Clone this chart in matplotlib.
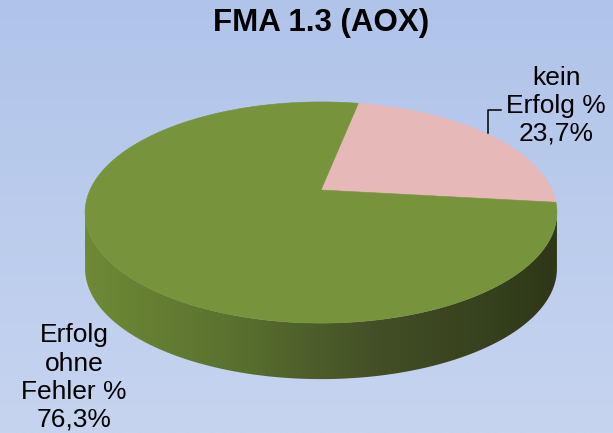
import numpy as np
import matplotlib.pyplot as plt
from matplotlib.patches import Polygon
from matplotlib.colors import LinearSegmentedColormap

plt.rcParams['font.family'] = ['Liberation Sans', 'DejaVu Sans']

# Daten
titel = "FMA 1.3 (AOX)"
kategorien = ["kein\nErfolg %", "Erfolg\nohne\nFehler %"]
werte = [23.7, 76.3]
beschriftung = ["23,7%", "76,3%"]
farben = ["#e6b8b7", "#77933c"]

# Geometrie des 3D-Kuchens (Pixel)
cx, cy = 321, 190      # Mittelpunkt
R, Ry = 231, 106       # Radien
k = 0.2036             # Perspektive
tiefe = 56             # Hoehe der Seitenwand
start = -6.5           # Startwinkel in Grad


def projektion(t, drop=0.0):
    u, v = np.cos(t), np.sin(t)
    w = 1 + k * v
    return cx + R * u / w, cy - Ry * v / w + drop


fig = plt.figure(figsize=(6.13, 4.33), dpi=100)
ax = fig.add_axes([0, 0, 1, 1])
ax.set_xlim(0, 613)
ax.set_ylim(433, 0)
ax.axis('off')

# Hintergrund mit Verlauf
hg = LinearSegmentedColormap.from_list("hg", ["#b0c4ea", "#c6d4ef"])
ax.imshow(np.linspace(0, 1, 256).reshape(-1, 1), cmap=hg, aspect='auto',
          extent=(0, 613, 433, 0), zorder=0)

# Winkel der Stuecke
anteile = np.array(werte) / sum(werte) * 360
grenzen = start + np.concatenate([[0], np.cumsum(anteile)])

# Seitenwand (nur sichtbarer Bereich vorne)
t_links = np.pi + np.arcsin(k)
t_rechts = 2 * np.pi - np.arcsin(k)
seite_cmap = LinearSegmentedColormap.from_list(
    "seite", [(0, "#6f8a36"), (0.3, "#5b7230"), (0.62, "#434f26"), (1, "#2e3818")])

for i in range(len(werte)):
    a0 = np.deg2rad(grenzen[i]) % (2 * np.pi)
    a1 = a0 + np.deg2rad(anteile[i])
    for off in (0, 2 * np.pi):
        lo = max(a0 - off, t_links)
        hi = min(a1 - off, t_rechts)
        if hi <= lo:
            continue
        t = np.linspace(lo, hi, 200)
        xo, yo = projektion(t)
        xu, yu = projektion(t[::-1], tiefe)
        pts = np.column_stack([np.concatenate([xo, xu]), np.concatenate([yo, yu])])
        poly = Polygon(pts, closed=True, facecolor='none', edgecolor='none')
        ax.add_patch(poly)
        if farben[i] == "#77933c":
            cmap = seite_cmap
        else:
            cmap = LinearSegmentedColormap.from_list("p", ["#c9a09f", "#7d6362"])
        x_min, x_max = projektion(t_links)[0], projektion(t_rechts)[0]
        im = ax.imshow(np.linspace(0, 1, 256).reshape(1, -1), cmap=cmap,
                       aspect='auto', extent=(x_min, x_max, 433, 0), zorder=1)
        im.set_clip_path(poly)

# Oberseite
for i in range(len(werte)):
    t = np.deg2rad(np.linspace(grenzen[i], grenzen[i + 1], 300))
    x, y = projektion(t)
    pts = np.column_stack([np.concatenate([[cx], x]), np.concatenate([[cy], y])])
    ax.add_patch(Polygon(pts, closed=True, facecolor=farben[i],
                         edgecolor=farben[i], lw=0.4, zorder=2))

# Titel
ax.text(321, 23, titel, ha='center', va='center', fontsize=22.5,
        fontweight='bold', zorder=3)

# Beschriftungen
ax.text(556, 141, kategorien[0] + "\n" + beschriftung[0], ha='center',
        va='baseline', fontsize=19, linespacing=1.22, zorder=3)
ax.text(74, 427, kategorien[1] + "\n" + beschriftung[1], ha='center',
        va='baseline', fontsize=19, linespacing=1.22, zorder=3)

# Fuehrungslinie
ax.plot([488, 488, 501], [133, 110, 110], color='black', lw=1.1, zorder=3)

fig.savefig("out.png", dpi=100)
plt.close('all')
